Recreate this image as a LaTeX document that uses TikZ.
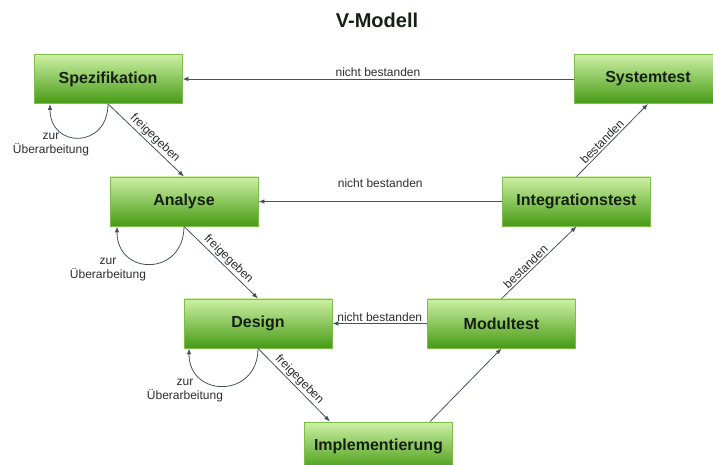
\documentclass[tikz,border=0pt]{standalone}
\usepackage{fontspec}
\setmainfont{Liberation Sans}
\usetikzlibrary{arrows.meta,calc}

\definecolor{boxtop}{RGB}{205,240,165}
\definecolor{boxmid}{RGB}{135,208,75}
\definecolor{boxbot}{RGB}{70,155,20}
\definecolor{boxline}{RGB}{125,190,75}
\definecolor{conn}{RGB}{70,82,96}
\definecolor{ink}{RGB}{22,32,18}
\definecolor{lblink}{RGB}{45,45,45}

\tikzset{
  phase/.style={draw=boxline, line width=0.8pt,
    top color=boxtop, middle color=boxmid, bottom color=boxbot,
    minimum width=148pt, minimum height=49pt, inner sep=0pt,
    font=\fontsize{16}{18}\selectfont\bfseries, text=ink},
  flow/.style={draw=conn, line width=0.8pt, -{Latex[length=6pt,width=4.5pt]}},
  lbl/.style={font=\fontsize{12}{14}\selectfont, text=lblink, inner sep=1.5pt},
  looplbl/.style={lbl, align=center},
  titlestyle/.style={font=\fontsize{20}{24}\selectfont\bfseries, text=ink}
}

\begin{document}
\begin{tikzpicture}[x=1pt,y=-1pt]
  \useasboundingbox (0,0) rectangle (713,465);
  \clip (0,0) rectangle (713,465);

  \node[titlestyle] (title) at (377,20) {V-Modell};

  % left branch
  \node[phase] (spez)    at (108,79)    {Spezifikation};
  \node[phase] (analyse) at (184,201.5) {Analyse};
  \node[phase] (design)  at (258,323.5) {Design};
  % bottom
  \node[phase] (impl)    at (378.5,446.5) {Implementierung};
  % right branch
  \node[phase] (modul)   at (501.5,323.5) {Modultest};
  \node[phase] (integ)   at (576.5,201.5) {Integrationstest};
  \node[phase] (system)  at (648,79)    {Systemtest};

  % failed tests lead back to the matching phase
  \draw[flow] (system.west) -- node[lbl, above, inner sep=2pt] (nb1) {nicht bestanden} (spez.east);
  \draw[flow] (integ.west)  -- node[lbl, above=12pt] (nb2) {nicht bestanden} (analyse.east);
  \draw[flow] (modul.west)  -- node[lbl, above, inner sep=1.5pt] (nb3) {nicht bestanden} (design.east);

  % released phases go down the left branch
  \draw[flow] (spez.south) -- node[lbl, sloped, above, pos=0.55] (fg1) {freigegeben} (analyse.north);
  \draw[flow] (analyse.south) -- node[lbl, sloped, above, pos=0.53] (fg2) {freigegeben} (design.north);
  \draw[flow] (design.south) -- node[lbl, sloped, above, pos=0.5] (fg3) {freigegeben} ($(impl.north)+(-48.5,0)$);

  % passed tests go up the right branch
  \draw[flow] ($(impl.north)+(51.5,0)$) -- (modul.south);
  \draw[flow] (modul.north) -- node[lbl, sloped, above, pos=0.38] (bs1) {bestanden} (integ.south);
  \draw[flow] (integ.north) -- node[lbl, sloped, above, pos=0.42] (bs2) {bestanden} (system.south);

  % rework loops
  \draw[flow] (spez.south) .. controls +(0,45) and +(0,45) .. ($(spez.south)+(-58,0)$);
  \draw[flow] (analyse.south) .. controls +(0,50) and +(0,50) .. ($(analyse.south)+(-67,0)$);
  \draw[flow] (design.south) .. controls +(0,50) and +(0,50) .. ($(design.south)+(-69,0)$);

  \node[looplbl] (ue1) at (51,145)  {zur\\Überarbeitung};
  \node[looplbl] (ue2) at (108,270) {zur\\Überarbeitung};
  \node[looplbl] (ue3) at (185,391) {zur\\Überarbeitung};
\end{tikzpicture}
\end{document}
